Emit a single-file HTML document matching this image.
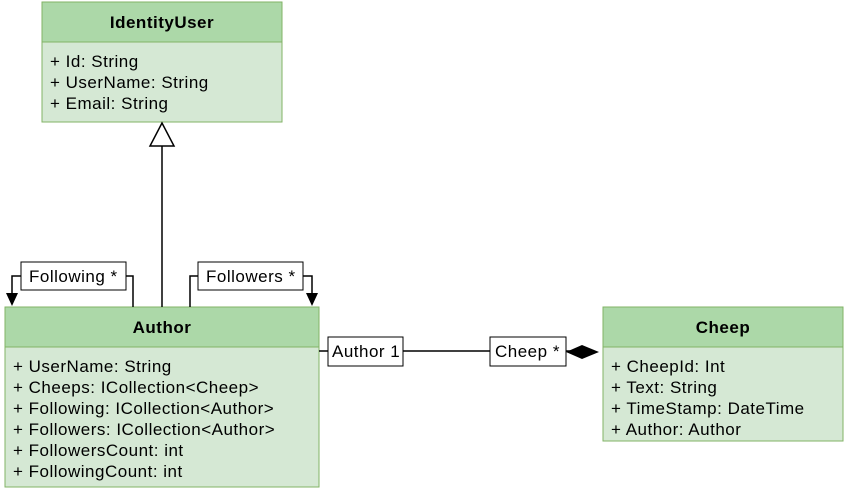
<!DOCTYPE html><html><head><style>body{margin:0;background:#fff}</style></head><body>
<svg width="847" height="489" xmlns="http://www.w3.org/2000/svg" font-family="Liberation Sans, sans-serif" font-size="17" letter-spacing="0.5">
<rect x="0" y="0" width="847" height="489" fill="#fff"/>
<!-- IdentityUser -->
<rect x="42" y="2" width="240" height="120" fill="#d5e8d4" stroke="#82b366"/>
<rect x="42" y="2" width="240" height="40" fill="#acd8a8" stroke="#82b366"/>
<text x="162" y="28" text-anchor="middle" font-weight="bold">IdentityUser</text>
<text x="50" y="67">+ Id: String</text>
<text x="50" y="88">+ UserName: String</text>
<text x="50" y="109">+ Email: String</text>
<!-- Author -->
<rect x="5" y="307" width="314" height="180" fill="#d5e8d4" stroke="#82b366"/>
<rect x="5" y="307" width="314" height="40" fill="#acd8a8" stroke="#82b366"/>
<text x="162" y="333" text-anchor="middle" font-weight="bold">Author</text>
<text x="13" y="372">+ UserName: String</text>
<text x="13" y="393">+ Cheeps: ICollection&lt;Cheep&gt;</text>
<text x="13" y="414">+ Following: ICollection&lt;Author&gt;</text>
<text x="13" y="435">+ Followers: ICollection&lt;Author&gt;</text>
<text x="13" y="456">+ FollowersCount: int</text>
<text x="13" y="477">+ FollowingCount: int</text>
<!-- Cheep -->
<rect x="603" y="307" width="240" height="134" fill="#d5e8d4" stroke="#82b366"/>
<rect x="603" y="307" width="240" height="40" fill="#acd8a8" stroke="#82b366"/>
<text x="723" y="333" text-anchor="middle" font-weight="bold">Cheep</text>
<text x="611" y="372">+ CheepId: Int</text>
<text x="611" y="393">+ Text: String</text>
<text x="611" y="414">+ TimeStamp: DateTime</text>
<text x="611" y="435">+ Author: Author</text>
<!-- inheritance -->
<line x1="162" y1="307" x2="162" y2="146" stroke="#000" stroke-width="1.5"/>
<polygon points="162,123 150,146 174,146" fill="#fff" stroke="#000" stroke-width="1.5"/>
<!-- Following -->
<polyline points="133,307 133,276 126,276" fill="none" stroke="#000" stroke-width="1.5"/>
<polyline points="21,276 12,276 12,296" fill="none" stroke="#000" stroke-width="1.5"/>
<polygon points="6,293 18,293 12,306" fill="#000"/>
<rect x="21" y="262" width="105" height="28" fill="#fff" stroke="#000"/>
<text x="29" y="282">Following *</text>
<!-- Followers -->
<polyline points="190,307 190,276 198,276" fill="none" stroke="#000" stroke-width="1.5"/>
<polyline points="303,276 312,276 312,296" fill="none" stroke="#000" stroke-width="1.5"/>
<polygon points="306,293 318,293 312,306" fill="#000"/>
<rect x="198" y="262" width="105" height="28" fill="#fff" stroke="#000"/>
<text x="206" y="282">Followers *</text>
<!-- association -->
<line x1="319" y1="351" x2="575" y2="351" stroke="#000" stroke-width="1.5"/>
<polygon points="566,352 582,345 599,352 582,359" fill="#000"/>
<rect x="328" y="337" width="75" height="29" fill="#fff" stroke="#000"/>
<text x="332" y="357">Author 1</text>
<rect x="490" y="337" width="76" height="29" fill="#fff" stroke="#000"/>
<text x="495" y="357">Cheep *</text>
</svg>
</body></html>
